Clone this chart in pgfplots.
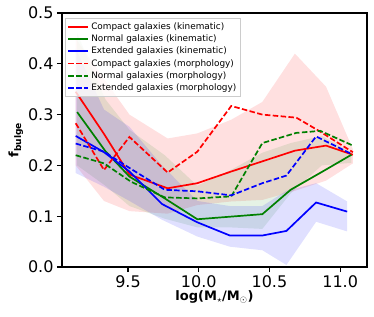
\documentclass[border=0pt]{standalone}
\usepackage{fontspec}
\setmainfont{DejaVu Sans}
\usepackage{pgfplots}
\pgfplotsset{compat=1.18}
\definecolor{mred}{rgb}{1,0,0}
\definecolor{mgreen}{rgb}{0,0.5,0}
\definecolor{mblue}{rgb}{0,0,1}
\definecolor{lgray}{RGB}{204,204,204}
\pgfplotsset{
  every axis legend/.append style={font=\fontsize{8.9}{10}\selectfont},
  legend image code/.code={\draw[mark repeat=2,mark phase=2,#1] plot coordinates {(0pt,0pt) (10pt,0pt) (20pt,0pt)};},
}
\begin{document}
\begin{tikzpicture}
\begin{axis}[
  at={(0pt,0pt)}, anchor=south west,
  scale only axis, width=305pt, height=254pt,
  xmin=9.033, xmax=11.19, ymin=0, ymax=0.5,
  xtick={9.5,10.0,10.5,11.0},
  ytick={0,0.1,0.2,0.3,0.4,0.5},
  xticklabels={9.5,10.0,10.5,11.0},
  yticklabels={0.0,0.1,0.2,0.3,0.4,0.5},
  ticklabel style={font=\fontsize{16}{16}\selectfont},
  tick align=outside, xtick pos=left, ytick pos=left,
  major tick length=5pt,
  tick style={line width=1.2pt, black},
  axis line style={line width=1.6pt},
  xlabel={\bfseries log(M\textsubscript{$\star$}/M\textsubscript{$\odot$})},
  ylabel={\bfseries f\textsubscript{bulge}},
  label style={font=\fontsize{13}{13}\selectfont},
  xlabel style={yshift=4pt},
  ylabel style={yshift=-2pt},
  legend style={at={(0.011,0.979)}, anchor=north west, draw=lgray,
    fill=white, fill opacity=0.8, text opacity=1, inner xsep=2pt, inner ysep=2pt},
  legend cell align=left,
]
% bands (upper edge left to right, then lower edge right to left)
\addplot[fill=mred, fill opacity=0.12, draw=none, forget plot] coordinates {(9.13,0.45)(9.33,0.37)(9.51,0.30)(9.78,0.253)(9.99,0.263)(10.23,0.29)(10.45,0.325)(10.68,0.42)(10.90,0.355)(11.09,0.232)
 (11.09,0.204)(10.90,0.17)(10.68,0.15)(10.45,0.132)(10.23,0.129)(9.99,0.122)(9.78,0.105)(9.51,0.11)(9.33,0.13)(9.13,0.20)};
\addplot[fill=mgreen, fill opacity=0.1, draw=none, forget plot] coordinates {(9.14,0.46)(9.34,0.33)(9.51,0.27)(9.76,0.22)(9.99,0.16)(10.22,0.19)(10.45,0.225)(10.65,0.244)(10.87,0.258)(11.08,0.225)
 (11.08,0.205)(10.87,0.20)(10.65,0.145)(10.45,0.075)(10.22,0.078)(9.99,0.078)(9.76,0.095)(9.51,0.12)(9.34,0.16)(9.14,0.20)};
\addplot[fill=mblue, fill opacity=0.12, draw=none, forget plot] coordinates {(9.13,0.43)(9.33,0.31)(9.51,0.276)(9.74,0.20)(9.99,0.13)(10.22,0.12)(10.45,0.12)(10.62,0.15)(10.83,0.165)(11.05,0.129)
 (11.05,0.07)(10.83,0.089)(10.62,0.004)(10.45,0.033)(10.22,0.04)(9.99,0.06)(9.74,0.093)(9.51,0.13)(9.33,0.158)(9.13,0.185)};
% lines
\addplot[mred, line width=1.7pt] coordinates {(9.13,0.345)(9.33,0.262)(9.51,0.182)(9.78,0.155)(9.99,0.165)(10.23,0.188)(10.45,0.208)(10.68,0.229)(10.90,0.239)(11.09,0.221)};
\addlegendentry{Compact galaxies (kinematic)}
\addplot[mgreen, line width=1.7pt] coordinates {(9.14,0.305)(9.34,0.228)(9.51,0.178)(9.76,0.135)(9.99,0.094)(10.22,0.099)(10.45,0.104)(10.65,0.152)(10.87,0.187)(11.08,0.221)};
\addlegendentry{Normal galaxies (kinematic)}
\addplot[mblue, line width=1.7pt] coordinates {(9.13,0.258)(9.33,0.226)(9.51,0.188)(9.74,0.124)(9.99,0.088)(10.22,0.062)(10.45,0.062)(10.62,0.071)(10.83,0.127)(11.05,0.109)};
\addlegendentry{Extended galaxies (kinematic)}
\addplot[mred, line width=1.7pt, dash pattern=on 5.5pt off 2.4pt] coordinates {(9.13,0.283)(9.33,0.191)(9.51,0.256)(9.78,0.186)(9.99,0.227)(10.23,0.317)(10.45,0.300)(10.69,0.294)(10.85,0.268)(11.09,0.226)};
\addlegendentry{Compact galaxies (morphology)}
\addplot[mgreen, line width=1.7pt, dash pattern=on 5.5pt off 2.4pt] coordinates {(9.13,0.22)(9.33,0.204)(9.52,0.168)(9.76,0.137)(9.99,0.135)(10.23,0.139)(10.45,0.244)(10.69,0.264)(10.86,0.268)(11.09,0.239)};
\addlegendentry{Normal galaxies (morphology)}
\addplot[mblue, line width=1.7pt, dash pattern=on 5.5pt off 2.4pt] coordinates {(9.13,0.243)(9.33,0.227)(9.51,0.195)(9.76,0.152)(9.99,0.149)(10.23,0.141)(10.45,0.165)(10.62,0.18)(10.83,0.257)(11.07,0.224)};
\addlegendentry{Extended galaxies (morphology)}
\end{axis}
\path (-62pt,-49pt) rectangle (312pt,267pt);
\end{tikzpicture}
\end{document}
